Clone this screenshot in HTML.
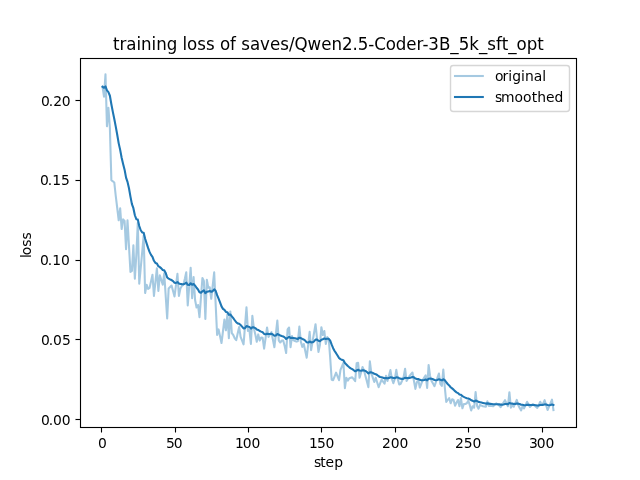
<!DOCTYPE html>
<html><head><meta charset="utf-8"><title>training loss of saves/Qwen2.5-Coder-3B_5k_sft_opt</title>
<style>html,body{margin:0;padding:0;background:#fff;}body{width:640px;height:480px;overflow:hidden;}svg{display:block;will-change:transform;}</style>
</head><body>
<svg width="640" height="480" viewBox="0 0 640 480" style="font-family:'DejaVu Sans', sans-serif">
<rect x="0" y="0" width="640" height="480" fill="#ffffff"/>
<path d="M102.55 86.8 L104.01 96.7 L105.48 74.4 L106.95 126.3 L108.42 107.9 L109.89 128 L111.36 180.2 L112.83 181.3 L114.3 182.5 L115.76 196 L117.23 208 L118.7 220.3 L120.17 208.4 L121.64 229 L123.11 219.4 L124.58 221 L126.05 249.1 L127.51 220.3 L128.98 246 L130.45 272 L131.92 271 L133.39 245.25 L134.86 278.75 L136.33 255 L137.8 223 L139.26 283.75 L140.73 268 L142.2 252 L143.67 235.5 L145.14 293 L146.61 284.7 L148.08 289 L149.55 288 L151.01 281.4 L152.48 274.8 L153.95 296 L155.42 282.15 L156.89 268.3 L158.36 291 L159.83 275.3 L161.3 280 L162.76 284.7 L164.23 273.4 L165.7 296 L167.17 318.4 L168.64 288.6 L170.11 287.1 L171.58 285.6 L173.05 291 L174.51 296.4 L175.98 285.15 L177.45 273.9 L178.92 296 L180.39 288.5 L181.86 286 L183.33 285 L184.8 279 L186.26 272.3 L187.73 305.4 L189.2 286.55 L190.67 267.7 L192.14 298.2 L193.61 277 L195.08 300 L196.55 307.5 L198.01 305 L199.48 317.2 L200.95 297.6 L202.42 278 L203.89 281 L205.36 319 L206.83 279.8 L208.3 287.8 L209.76 287.3 L211.23 298.8 L212.7 285.55 L214.17 272.3 L215.64 303.65 L217.11 335 L218.58 329.4 L220.05 336.2 L221.51 343 L222.98 331.25 L224.45 319.5 L225.92 330.3 L227.39 314.4 L228.86 338.3 L230.33 311.6 L231.8 333.1 L233.27 335 L234.73 338.3 L236.2 340.2 L237.67 333.6 L239.14 327 L240.61 336.9 L242.08 340.65 L243.55 344.4 L245.02 325.9 L246.48 307.4 L247.95 331 L249.42 330 L250.89 343.9 L252.36 315.8 L253.83 328 L255.3 334.4 L256.77 341.7 L258.23 334.4 L259.7 340.6 L261.17 337.5 L262.64 337.8 L264.11 348.6 L265.58 338.05 L267.05 327.5 L268.52 336.9 L269.98 334.55 L271.45 332.2 L272.92 339.7 L274.39 347.2 L275.86 333.85 L277.33 320.5 L278.8 340.6 L280.27 342.5 L281.73 340.6 L283.2 340.5 L284.67 346 L286.14 353 L287.61 329.4 L289.08 327.5 L290.55 347.2 L292.02 336 L293.48 340.3 L294.95 340.95 L296.42 341.6 L297.89 341.25 L299.36 326.6 L300.83 341.6 L302.3 346.9 L303.77 344 L305.23 350.85 L306.7 357.7 L308.17 344.75 L309.64 331.8 L311.11 350.2 L312.58 341.53 L314.05 332.87 L315.52 324.2 L316.98 338.1 L318.45 352 L319.92 345 L321.39 327.2 L322.86 335 L324.33 331 L325.8 344 L327.27 337 L328.73 339 L330.2 358 L331.67 379.7 L333.14 380.2 L334.61 376.45 L336.08 372.7 L337.55 376.45 L339.02 380.2 L340.48 369.8 L341.95 366.3 L343.42 362.8 L344.89 388.1 L346.36 377.8 L347.83 380.6 L349.3 378.3 L350.77 377.8 L352.23 377.3 L353.7 379.2 L355.17 381.1 L356.64 363.3 L358.11 362.8 L359.58 377.8 L361.05 372.4 L362.52 367 L363.98 370.3 L365.45 375.93 L366.92 381.57 L368.39 387.2 L369.86 361.4 L371.33 373.1 L372.8 377.55 L374.27 382 L375.73 377.8 L377.2 382.5 L378.67 387.2 L380.14 383.45 L381.61 379.7 L383.08 381.72 L384.55 383.75 L386.02 375.8 L387.48 381 L388.95 375.55 L390.42 370.1 L391.89 379 L393.36 383.25 L394.83 379 L396.3 369.8 L397.77 379 L399.23 384.5 L400.7 383.75 L402.17 380.5 L403.64 377 L405.11 368.75 L406.58 381 L408.05 378.5 L409.52 376 L410.98 374.25 L412.45 372.5 L413.92 380.7 L415.39 388.9 L416.86 382 L418.33 380 L419.8 387.5 L421.27 383.75 L422.73 380 L424.2 377.65 L425.67 375.3 L427.14 388 L428.61 365 L430.08 376 L431.55 381 L433.02 383.6 L434.49 386.2 L435.95 382 L437.42 377.75 L438.89 373.5 L440.36 384 L441.83 386 L443.3 369.6 L444.77 387 L446.24 402 L447.7 400 L449.17 398 L450.64 403.3 L452.11 399.3 L453.58 400 L455.05 405.7 L456.52 402.5 L457.99 400 L459.45 406.3 L460.92 398 L462.39 408.3 L463.86 404 L465.33 404 L466.8 403.3 L468.27 400.7 L469.74 405 L471.2 410.4 L472.67 406.2 L474.14 407.75 L475.61 392 L477.08 405.9 L478.55 408.7 L480.02 404.9 L481.49 405.6 L482.95 406.3 L484.42 406.55 L485.89 406.8 L487.36 401.2 L488.83 405.9 L490.3 405.9 L491.77 405.9 L493.24 406.25 L494.7 404.82 L496.17 403.4 L497.64 404.35 L499.11 405.3 L500.58 407.2 L502.05 404.87 L503.52 402.53 L504.99 400.2 L506.45 403.22 L507.92 406.25 L509.39 392.2 L510.86 407.7 L512.33 405.3 L513.8 406.7 L515.27 403.3 L516.74 399.9 L518.2 405.1 L519.67 407.9 L521.14 410.38 L522.61 406 L524.08 408.4 L525.55 405.1 L527.02 401.8 L528.49 404.37 L529.95 406.95 L531.42 405.52 L532.89 404.1 L534.36 405.37 L535.83 406.63 L537.3 407.9 L538.77 404.85 L540.24 401.8 L541.7 405 L543.17 403.5 L544.64 400.2 L546.11 405.1 L547.58 410 L549.05 406.57 L550.52 403.13 L551.99 399.7 L553.45 410" fill="none" stroke="#1f77b4" stroke-opacity="0.4" stroke-width="2.08" stroke-linecap="square" stroke-linejoin="round"/>
<path d="M102.55 86.8 L104.01 87.79 L105.48 86.45 L106.95 90.44 L108.42 92.18 L109.89 95.76 L111.36 104.21 L112.83 111.92 L114.3 118.97 L115.76 126.68 L117.23 134.81 L118.7 143.36 L120.17 149.86 L121.64 157.78 L123.11 163.94 L124.58 169.64 L126.05 177.59 L127.51 181.86 L128.98 188.28 L130.45 196.65 L131.92 204.08 L133.39 208.2 L134.86 215.25 L136.33 219.23 L137.8 219.61 L139.26 226.02 L140.73 230.22 L142.2 232.4 L143.67 232.71 L145.14 238.74 L146.61 243.33 L148.08 247.9 L149.55 251.91 L151.01 254.86 L152.48 256.85 L153.95 260.77 L155.42 262.91 L156.89 263.45 L158.36 266.2 L159.83 267.11 L161.3 268.4 L162.76 270.03 L164.23 270.37 L165.7 272.93 L167.17 277.48 L168.64 278.59 L170.11 279.44 L171.58 280.06 L173.05 281.15 L174.51 282.68 L175.98 282.92 L177.45 282.02 L178.92 283.42 L180.39 283.93 L181.86 284.13 L183.33 284.22 L184.8 283.7 L186.26 282.56 L187.73 284.84 L189.2 285.01 L190.67 283.28 L192.14 284.77 L193.61 284 L195.08 285.6 L196.55 287.79 L198.01 289.51 L199.48 292.28 L200.95 292.81 L202.42 291.33 L203.89 290.3 L205.36 293.17 L206.83 291.83 L208.3 291.43 L209.76 291.01 L211.23 291.79 L212.7 291.17 L214.17 289.28 L215.64 290.72 L217.11 295.15 L218.58 298.57 L220.05 302.33 L221.51 306.4 L222.98 308.89 L224.45 309.95 L225.92 311.98 L227.39 312.22 L228.86 314.83 L230.33 314.51 L231.8 316.37 L233.27 318.23 L234.73 320.24 L236.2 322.23 L237.67 323.37 L239.14 323.73 L240.61 325.05 L242.08 326.61 L243.55 328.39 L245.02 328.14 L246.48 326.07 L247.95 326.56 L249.42 326.9 L250.89 328.6 L252.36 327.32 L253.83 327.39 L255.3 328.09 L256.77 329.45 L258.23 329.95 L259.7 331.01 L261.17 331.66 L262.64 332.27 L264.11 333.91 L265.58 334.32 L267.05 333.64 L268.52 333.97 L269.98 334.02 L271.45 333.84 L272.92 334.43 L274.39 335.7 L275.86 335.52 L277.33 334.02 L278.8 334.68 L280.27 335.46 L281.73 335.97 L283.2 336.42 L284.67 337.38 L286.14 338.94 L287.61 337.99 L289.08 336.94 L290.55 337.97 L292.02 337.77 L293.48 338.02 L294.95 338.32 L296.42 338.64 L297.89 338.9 L299.36 337.67 L300.83 338.07 L302.3 338.95 L303.77 339.46 L305.23 340.59 L306.7 342.31 L308.17 342.55 L309.64 341.47 L311.11 342.35 L312.58 342.27 L314.05 341.33 L315.52 339.61 L316.98 339.46 L318.45 340.72 L319.92 341.14 L321.39 339.75 L322.86 339.27 L324.33 338.45 L325.8 339 L327.27 338.8 L328.73 338.82 L330.2 340.74 L331.67 344.64 L333.14 348.19 L334.61 351.02 L336.08 353.19 L337.55 355.51 L339.02 357.98 L340.48 359.16 L341.95 359.88 L343.42 360.17 L344.89 362.96 L346.36 364.45 L347.83 366.06 L349.3 367.29 L350.77 368.34 L352.23 369.23 L353.7 370.23 L355.17 371.32 L356.64 370.52 L358.11 369.74 L359.58 370.55 L361.05 370.73 L362.52 370.36 L363.98 370.35 L365.45 370.91 L366.92 371.98 L368.39 373.5 L369.86 372.29 L371.33 372.37 L372.8 372.89 L374.27 373.8 L375.73 374.2 L377.2 375.03 L378.67 376.25 L380.14 376.97 L381.61 377.24 L383.08 377.69 L384.55 378.3 L386.02 378.05 L387.48 378.34 L388.95 378.06 L390.42 377.27 L391.89 377.44 L393.36 378.02 L394.83 378.12 L396.3 377.29 L397.77 377.46 L399.23 378.16 L400.7 378.72 L402.17 378.9 L403.64 378.71 L405.11 377.71 L406.58 378.04 L408.05 378.09 L409.52 377.88 L410.98 377.52 L412.45 377.01 L413.92 377.38 L415.39 378.53 L416.86 378.88 L418.33 378.99 L419.8 379.84 L421.27 380.23 L422.73 380.21 L424.2 379.95 L425.67 379.49 L427.14 380.34 L428.61 378.81 L430.08 378.53 L431.55 378.77 L433.02 379.26 L434.49 379.95 L435.95 380.16 L437.42 379.91 L438.89 379.27 L440.36 379.75 L441.83 380.37 L443.3 379.29 L444.77 380.06 L446.24 382.26 L447.7 384.03 L449.17 385.43 L450.64 387.22 L452.11 388.42 L453.58 389.58 L455.05 391.19 L456.52 392.32 L457.99 393.09 L459.45 394.41 L460.92 394.77 L462.39 396.12 L463.86 396.91 L465.33 397.62 L466.8 398.19 L468.27 398.44 L469.74 399.1 L471.2 400.23 L472.67 400.82 L474.14 401.52 L475.61 400.56 L477.08 401.1 L478.55 401.86 L480.02 402.16 L481.49 402.51 L482.95 402.89 L484.42 403.25 L485.89 403.61 L487.36 403.37 L488.83 403.62 L490.3 403.85 L491.77 404.05 L493.24 404.27 L494.7 404.33 L496.17 404.23 L497.64 404.25 L499.11 404.35 L500.58 404.64 L502.05 404.66 L503.52 404.45 L504.99 404.02 L506.45 403.94 L507.92 404.17 L509.39 402.98 L510.86 403.45 L512.33 403.63 L513.8 403.94 L515.27 403.88 L516.74 403.48 L518.2 403.64 L519.67 404.07 L521.14 404.7 L522.61 404.83 L524.08 405.19 L525.55 405.18 L527.02 404.84 L528.49 404.79 L529.95 405.01 L531.42 405.06 L532.89 404.96 L534.36 405 L535.83 405.17 L537.3 405.44 L538.77 405.38 L540.24 405.02 L541.7 405.02 L543.17 404.87 L544.64 404.4 L546.11 404.47 L547.58 405.02 L549.05 405.18 L550.52 404.97 L551.99 404.45 L553.45 405" fill="none" stroke="#1f77b4" stroke-width="2.08" stroke-linecap="square" stroke-linejoin="round"/>
<g fill="#000" shape-rendering="crispEdges"><rect x="80" y="57" width="497" height="1" fill-opacity="0.055"/><rect x="80" y="59" width="497" height="1" fill-opacity="0.055"/><rect x="80" y="426" width="497" height="1" fill-opacity="0.055"/><rect x="80" y="428" width="497" height="1" fill-opacity="0.055"/><rect x="79" y="58" width="1" height="370" fill-opacity="0.055"/><rect x="81" y="58" width="1" height="370" fill-opacity="0.055"/><rect x="575" y="58" width="1" height="370" fill-opacity="0.055"/><rect x="577" y="58" width="1" height="370" fill-opacity="0.055"/><rect x="100" y="428" width="1" height="4" fill-opacity="0.055"/><rect x="102" y="428" width="1" height="4" fill-opacity="0.055"/><rect x="174" y="428" width="1" height="4" fill-opacity="0.055"/><rect x="176" y="428" width="1" height="4" fill-opacity="0.055"/><rect x="247" y="428" width="1" height="4" fill-opacity="0.055"/><rect x="249" y="428" width="1" height="4" fill-opacity="0.055"/><rect x="320" y="428" width="1" height="4" fill-opacity="0.055"/><rect x="322" y="428" width="1" height="4" fill-opacity="0.055"/><rect x="394" y="428" width="1" height="4" fill-opacity="0.055"/><rect x="396" y="428" width="1" height="4" fill-opacity="0.055"/><rect x="467" y="428" width="1" height="4" fill-opacity="0.055"/><rect x="469" y="428" width="1" height="4" fill-opacity="0.055"/><rect x="541" y="428" width="1" height="4" fill-opacity="0.055"/><rect x="543" y="428" width="1" height="4" fill-opacity="0.055"/><rect x="75" y="99" width="5" height="1" fill-opacity="0.055"/><rect x="75" y="101" width="5" height="1" fill-opacity="0.055"/><rect x="75" y="179" width="5" height="1" fill-opacity="0.055"/><rect x="75" y="181" width="5" height="1" fill-opacity="0.055"/><rect x="75" y="259" width="5" height="1" fill-opacity="0.055"/><rect x="75" y="261" width="5" height="1" fill-opacity="0.055"/><rect x="75" y="338" width="5" height="1" fill-opacity="0.055"/><rect x="75" y="340" width="5" height="1" fill-opacity="0.055"/><rect x="75" y="418" width="5" height="1" fill-opacity="0.055"/><rect x="75" y="420" width="5" height="1" fill-opacity="0.055"/><rect x="80" y="58" width="497" height="1"/><rect x="80" y="427" width="497" height="1"/><rect x="80" y="58" width="1" height="370"/><rect x="576" y="58" width="1" height="370"/><rect x="101" y="428" width="1" height="4"/><rect x="101" y="432" width="1" height="1" fill-opacity="0.5"/><rect x="175" y="428" width="1" height="4"/><rect x="175" y="432" width="1" height="1" fill-opacity="0.5"/><rect x="248" y="428" width="1" height="4"/><rect x="248" y="432" width="1" height="1" fill-opacity="0.5"/><rect x="321" y="428" width="1" height="4"/><rect x="321" y="432" width="1" height="1" fill-opacity="0.5"/><rect x="395" y="428" width="1" height="4"/><rect x="395" y="432" width="1" height="1" fill-opacity="0.5"/><rect x="468" y="428" width="1" height="4"/><rect x="468" y="432" width="1" height="1" fill-opacity="0.5"/><rect x="542" y="428" width="1" height="4"/><rect x="542" y="432" width="1" height="1" fill-opacity="0.5"/><rect x="76" y="100" width="4" height="1"/><rect x="75" y="100" width="1" height="1" fill-opacity="0.5"/><rect x="76" y="180" width="4" height="1"/><rect x="75" y="180" width="1" height="1" fill-opacity="0.5"/><rect x="76" y="260" width="4" height="1"/><rect x="75" y="260" width="1" height="1" fill-opacity="0.5"/><rect x="76" y="339" width="4" height="1"/><rect x="75" y="339" width="1" height="1" fill-opacity="0.5"/><rect x="76" y="419" width="4" height="1"/><rect x="75" y="419" width="1" height="1" fill-opacity="0.5"/></g>
<text x="97.88" y="448" font-size="13.89" fill="#000000">0</text>
<text x="165.99 173.74" y="448" font-size="13.89" fill="#000000">50</text>
<text x="234.96 242.84 251.59" y="448" font-size="13.89" fill="#000000">100</text>
<text x="308.89 317.02 325.52" y="448" font-size="13.89" fill="#000000">150</text>
<text x="381.94 390.69 399.44" y="448" font-size="13.89" fill="#000000">200</text>
<text x="454.97 463.72 472.47" y="448" font-size="13.89" fill="#000000">250</text>
<text x="528.9 536.65 545.4" y="448" font-size="13.89" fill="#000000">300</text>
<text x="313.96 320.34 325.59 334.34" y="467" font-size="13.89" fill="#000000">step</text>
<text x="40.92 48.67 53.05 61.8" y="425" font-size="13.89" fill="#000000">0.00</text>
<text x="40.9 48.65 53.03 62.03" y="345" font-size="13.89" fill="#000000">0.05</text>
<text x="40.03 47.78 52.16 61.03" y="265" font-size="13.89" fill="#000000">0.10</text>
<text x="39.97 47.72 52.34 60.97" y="185" font-size="13.89" fill="#000000">0.15</text>
<text x="40.94 48.69 53.32 61.82" y="106" font-size="13.89" fill="#000000">0.20</text>
<text x="18.85 21.72 30.22 37.35" y="246" font-size="13.89" fill="#000000" transform="rotate(-90 30.91 246)">loss</text>
<text x="113 119.5 126.38 136.5 141.12 151.62 156.25 166.75 177.25 182.5 187.12 197.25 206 214.75 220 230.12 236 241.25 250 260.12 270 280.25 289 294.62 307.62 321.25 331.5 342 352.62 357.88 368.38 374.25 385.75 395.88 406.38 416.62 422.5 428.38 439 450.38 458.75 469.25 479 487.38 496.12 501.75 508.25 516.62 526.75 537.25" y="50" font-size="16.67" fill="#000000" transform="translate(0 50) scale(1 1.06) translate(0 -50)">training loss of saves/Qwen2.5-Coder-3B_5k_sft_opt</text>
<path d="M453.27777777777777 111.5 L566.7222222222222 111.5 Q569.5 111.5 569.5 108.72222222222223 L569.5 68.27777777777777 Q569.5 65.5 566.7222222222222 65.5 L453.27777777777777 65.5 Q450.5 65.5 450.5 68.27777777777777 L450.5 108.72222222222223 Q450.5 111.5 453.27777777777777 111.5 Z" fill="#ffffff" stroke="#cccccc" stroke-width="1.39" opacity="0.8" stroke-linejoin="miter"/>
<path d="M455.0 76.0 L482.8 76.0" stroke="#1f77b4" stroke-opacity="0.4" stroke-width="2.08" stroke-linecap="square" fill="none"/>
<path d="M455.0 97.0 L482.8 97.0" stroke="#1f77b4" stroke-width="2.08" stroke-linecap="square" fill="none"/>
<text x="495.01 502.51 508.26 512.13 521.01 524.88 533.63 542.26" y="81" font-size="13.89" fill="#000000">original</text>
<text x="494.93 501.05 514.55 523.05 531.8 537.3 546.05 554.55" y="102" font-size="13.89" fill="#000000">smoothed</text>
</svg>
</body></html>
